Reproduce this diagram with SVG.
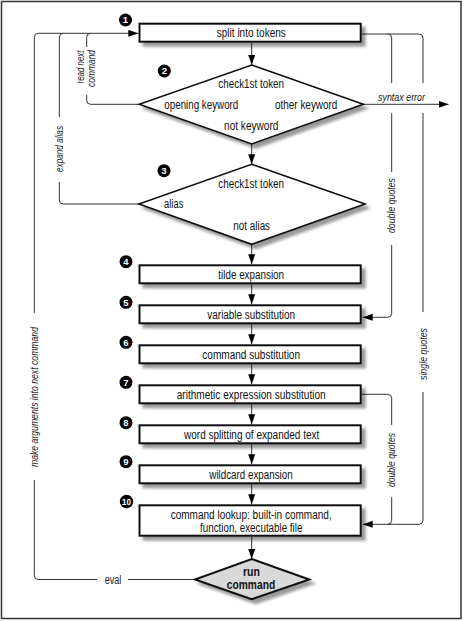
<svg xmlns="http://www.w3.org/2000/svg" width="464" height="621" viewBox="0 0 464 621">
<style>
  .box{fill:#fff;stroke:#111;stroke-width:2}
  .dia{fill:#fff;stroke:#111;stroke-width:1.6}
  .run{fill:#d9d9d9;stroke:#111;stroke-width:2}
  .t{font-family:"Liberation Sans",Arial,sans-serif;font-size:12px;fill:#111;text-anchor:middle}
  .b{font-weight:bold;font-size:12px}
  .lab{font-family:"Liberation Sans",Arial,sans-serif;font-size:11px;font-style:italic;fill:#222;text-anchor:middle}
  .up{font-style:normal;font-size:12px}
  .ln{fill:none;stroke:#333;stroke-width:1}
  .badge circle{fill:#000}
  .badge text{font-family:"Liberation Sans",Arial,sans-serif;font-weight:bold;font-size:9.5px;fill:#fff;text-anchor:middle}
</style>
<defs>
  <marker id="ah" markerUnits="userSpaceOnUse" markerWidth="10" markerHeight="8" refX="10" refY="3.5" orient="auto">
    <path d="M0,0 L10,3.5 L0,7 z" fill="#000"/>
  </marker>
  <filter id="sh" x="-10%" y="-20%" width="130%" height="170%">
    <feGaussianBlur in="SourceAlpha" stdDeviation="1.6"/>
    <feOffset dx="3.5" dy="4" result="o"/>
    <feComponentTransfer in="o" result="s"><feFuncA type="linear" slope="0.4"/></feComponentTransfer>
    <feMerge><feMergeNode in="s"/><feMergeNode in="SourceGraphic"/></feMerge>
  </filter>
</defs>
<rect x="1.5" y="1.5" width="459.5" height="617" fill="#fff" stroke="#333" stroke-width="1.5"/>

<g id="connectors">
  <path class="ln" d="M251.7,43 V65" marker-end="url(#ah)"/>
  <path class="ln" d="M251.7,144 V164.3" marker-end="url(#ah)"/>
  <path class="ln" d="M251.7,244.3 V264.3" marker-end="url(#ah)"/>
  <path class="ln" d="M251.7,284.3 V304.3" marker-end="url(#ah)"/>
  <path class="ln" d="M251.7,324.3 V344.3" marker-end="url(#ah)"/>
  <path class="ln" d="M251.7,364.3 V384.3" marker-end="url(#ah)"/>
  <path class="ln" d="M251.7,404.3 V424.3" marker-end="url(#ah)"/>
  <path class="ln" d="M251.7,444.3 V464.3" marker-end="url(#ah)"/>
  <path class="ln" d="M251.7,484.3 V504.3" marker-end="url(#ah)"/>
  <path class="ln" d="M251.7,536.7 V559" marker-end="url(#ah)"/>

  <path class="ln" d="M195,579.5 H128"/>
  <path class="ln" d="M97,579.5 H38.3 Q34.3,579.5 34.3,575.5 V480"/>
  <path class="ln" d="M34.3,313 V37.3 Q34.3,33.3 38.3,33.3 H138.3" marker-end="url(#ah)"/>
  <text class="lab up" x="113" y="583.5" textLength="16.7" lengthAdjust="spacingAndGlyphs">eval</text>
  <text class="lab" transform="translate(37.6,397) rotate(-90)" textLength="140" lengthAdjust="spacingAndGlyphs">make arguments into next command</text>

  <path class="ln" d="M139,204 H63.3 Q59.3,204 59.3,200 V182"/>
  <path class="ln" d="M59.3,117 V37.3 Q59.3,33.3 63.3,33.3"/>
  <text class="lab" transform="translate(62.6,149) rotate(-90)" textLength="46" lengthAdjust="spacingAndGlyphs">expand alias</text>

  <path class="ln" d="M139.3,104.3 H90.7 Q86.7,104.3 86.7,100.3 V95"/>
  <path class="ln" d="M86.7,47 V37.3 Q86.7,33.3 90.7,33.3"/>
  <text class="lab" transform="translate(83.5,67) rotate(-90)" textLength="33" lengthAdjust="spacingAndGlyphs">read next</text>
  <text class="lab" transform="translate(95,68.5) rotate(-90)" textLength="37" lengthAdjust="spacingAndGlyphs">command</text>

  <path class="ln" d="M363.3,104.3 H448.5" marker-end="url(#ah)"/>
  <text class="lab" x="401.5" y="100.5" textLength="47" lengthAdjust="spacingAndGlyphs">syntax error</text>

  <path class="ln" d="M361.7,34 H419 Q423,34 423,38 V83"/>
  <path class="ln" d="M387.7,34 Q391.7,34 391.7,38 V83"/>
  <path class="ln" d="M391.7,113 V172"/>
  <path class="ln" d="M391.7,245 V313.3 Q391.7,317.3 387.7,317.3 H362.7" marker-end="url(#ah)"/>
  <text class="lab" transform="translate(395.2,205.5) rotate(-90)" textLength="55" lengthAdjust="spacingAndGlyphs">double quotes</text>
  <path class="ln" d="M423,113 V312"/>
  <path class="ln" d="M423,392 V520.3 Q423,524.3 419,524.3 H362.7" marker-end="url(#ah)"/>
  <text class="lab" transform="translate(427,354) rotate(-90)" textLength="52" lengthAdjust="spacingAndGlyphs">single quotes</text>
  <path class="ln" d="M361.7,394.3 H387.7 Q391.7,394.3 391.7,398.3 V425"/>
  <path class="ln" d="M391.7,497 V520.3 Q391.7,524.3 387.7,524.3"/>
  <text class="lab" transform="translate(395.2,460) rotate(-90)" textLength="54" lengthAdjust="spacingAndGlyphs">double quotes</text>
</g>

<g id="n1"><rect class="box" filter="url(#sh)" x="139.5" y="23.7" width="221.2" height="18"/>
<text class="t" x="251.3" y="37.2" textLength="69" lengthAdjust="spacingAndGlyphs">split into tokens</text></g>

<g id="n2"><polygon class="dia" filter="url(#sh)" points="251.7,65 363.3,104.3 251.7,144 139.3,104.3"/>
  <text class="t" x="251.2" y="87.7" textLength="65.7" lengthAdjust="spacingAndGlyphs">check1st token</text>
  <text class="t" x="201.3" y="108.5" textLength="74" lengthAdjust="spacingAndGlyphs">opening keyword</text>
  <text class="t" x="306.2" y="108.5" textLength="62.3" lengthAdjust="spacingAndGlyphs">other keyword</text>
  <text class="t" x="251.2" y="130" textLength="54.3" lengthAdjust="spacingAndGlyphs">not keyword</text>
</g>

<g id="n3"><polygon class="dia" filter="url(#sh)" points="251.7,164.3 365,204 251.7,244.3 139,204"/>
  <text class="t" x="251.2" y="187.7" textLength="65.7" lengthAdjust="spacingAndGlyphs">check1st token</text>
  <text class="t" x="173.7" y="208.2" textLength="19.3" lengthAdjust="spacingAndGlyphs">alias</text>
  <text class="t" x="251.7" y="229.5" textLength="36.7" lengthAdjust="spacingAndGlyphs">not alias</text>
</g>

<g id="n4"><rect class="box" filter="url(#sh)" x="139.5" y="265.3" width="221.2" height="18"/><text class="t" x="251.2" y="278.7" textLength="65.7" lengthAdjust="spacingAndGlyphs">tilde expansion</text></g>
<g id="n5"><rect class="box" filter="url(#sh)" x="139.5" y="305.3" width="221.2" height="18"/><text class="t" x="251.2" y="318.7" textLength="87.7" lengthAdjust="spacingAndGlyphs">variable substitution</text></g>
<g id="n6"><rect class="box" filter="url(#sh)" x="139.5" y="345.3" width="221.2" height="18"/><text class="t" x="251.2" y="358.7" textLength="97.7" lengthAdjust="spacingAndGlyphs">command substitution</text></g>
<g id="n7"><rect class="box" filter="url(#sh)" x="139.5" y="385.3" width="221.2" height="18"/><text class="t" x="251.2" y="398.7" textLength="149" lengthAdjust="spacingAndGlyphs">arithmetic expression substitution</text></g>
<g id="n8"><rect class="box" filter="url(#sh)" x="139.5" y="425.3" width="221.2" height="18"/><text class="t" x="251.7" y="438.7" textLength="135.3" lengthAdjust="spacingAndGlyphs">word splitting of expanded text</text></g>
<g id="n9"><rect class="box" filter="url(#sh)" x="139.5" y="465.3" width="221.2" height="18"/><text class="t" x="251" y="478.7" textLength="83.4" lengthAdjust="spacingAndGlyphs">wildcard expansion</text></g>
<g id="n10"><rect class="box" filter="url(#sh)" x="139.5" y="505.3" width="221.2" height="30.4"/>
  <text class="t" x="251.2" y="519.2" textLength="161" lengthAdjust="spacingAndGlyphs">command lookup: built-in command,</text>
  <text class="t" x="251.2" y="531.7" textLength="102.3" lengthAdjust="spacingAndGlyphs">function, executable file</text>
</g>
<g id="n11"><polygon class="run" filter="url(#sh)" points="251.7,559 309.3,579.5 251.7,599.3 195,579.5"/>
  <text class="t b" x="251.5" y="575.5" textLength="17" lengthAdjust="spacingAndGlyphs">run</text>
  <text class="t b" x="251" y="588.7" textLength="48.3" lengthAdjust="spacingAndGlyphs">command</text>
</g>

<g id="badges" class="badge">
  <circle cx="125.5" cy="20" r="6.5"/><text x="125.5" y="23.4">1</text>
  <circle cx="164.3" cy="71" r="6.5"/><text x="164.3" y="74.4">2</text>
  <circle cx="164" cy="170.7" r="6.5"/><text x="164" y="174.1">3</text>
  <circle cx="126" cy="261.7" r="6.5"/><text x="126" y="265.1">4</text>
  <circle cx="126" cy="302.3" r="6.5"/><text x="126" y="305.7">5</text>
  <circle cx="126" cy="342.3" r="6.5"/><text x="126" y="345.7">6</text>
  <circle cx="126" cy="382.3" r="6.5"/><text x="126" y="385.7">7</text>
  <circle cx="126" cy="422.7" r="6.5"/><text x="126" y="426.1">8</text>
  <circle cx="126" cy="461.7" r="6.5"/><text x="126" y="465.1">9</text>
  <circle cx="126.5" cy="501.5" r="6.7"/><text x="126.5" y="504.8" style="font-size:8.5px" textLength="9" lengthAdjust="spacingAndGlyphs">10</text>
</g>
</svg>
